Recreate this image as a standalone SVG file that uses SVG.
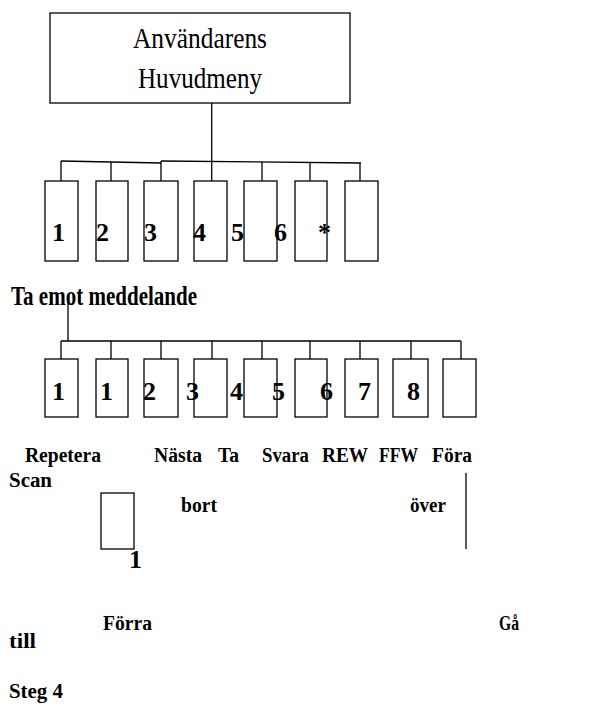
<svg xmlns="http://www.w3.org/2000/svg" width="604" height="706" viewBox="0 0 604 706">
<style>
.box{fill:#fff;stroke:#000;stroke-width:1.3}
.ln{fill:none;stroke:#000;stroke-width:1.3}
.t{font-family:"Liberation Serif","Times New Roman",serif;fill:#000}
.n{font-family:"Liberation Serif","Times New Roman",serif;font-weight:bold;font-size:26px;fill:#000}
.b{font-family:"Liberation Serif","Times New Roman",serif;font-weight:bold;font-size:20px;fill:#000}
</style>
<rect width="604" height="706" fill="#fff"/>
<g id="connectors">
<line class="ln" x1="211.7" y1="103" x2="211.7" y2="162"/>
<polyline class="ln" points="61,161 161,163"/>
<polyline class="ln" points="161,161 361,163"/>
<line class="ln" x1="61" y1="161" x2="61" y2="181"/>
<line class="ln" x1="111" y1="161.7" x2="111" y2="181"/>
<line class="ln" x1="161" y1="161" x2="161" y2="181"/>
<line class="ln" x1="211.7" y1="162" x2="211.7" y2="181"/>
<line class="ln" x1="262" y1="162" x2="262" y2="181"/>
<line class="ln" x1="310" y1="162.5" x2="310" y2="181"/>
<line class="ln" x1="360" y1="163" x2="360" y2="181"/>
<line class="ln" x1="68" y1="300" x2="68" y2="341"/>
<line class="ln" x1="61" y1="341" x2="461" y2="341"/>
<line class="ln" x1="61" y1="341" x2="61" y2="359"/>
<line class="ln" x1="111" y1="341" x2="111" y2="359"/>
<line class="ln" x1="161" y1="341" x2="161" y2="359"/>
<line class="ln" x1="212" y1="341" x2="212" y2="359"/>
<line class="ln" x1="262" y1="341" x2="262" y2="359"/>
<line class="ln" x1="310" y1="341" x2="310" y2="359"/>
<line class="ln" x1="360" y1="341" x2="360" y2="359"/>
<line class="ln" x1="411" y1="341" x2="411" y2="359"/>
<line class="ln" x1="461" y1="341" x2="461" y2="359"/>
<line class="ln" x1="466" y1="473" x2="466" y2="549"/>
</g>
<g id="main">
<rect class="box" x="50" y="13" width="300" height="90"/>
<text class="t" x="133" y="48" font-size="30" textLength="134" lengthAdjust="spacingAndGlyphs">Användarens</text>
<text class="t" x="138" y="88" font-size="30" textLength="124" lengthAdjust="spacingAndGlyphs">Huvudmeny</text>
</g>
<g id="menu1">
<rect class="box" x="45" y="181" width="33" height="80"/>
<rect class="box" x="96" y="181" width="32" height="80"/>
<rect class="box" x="144" y="181" width="34" height="80"/>
<rect class="box" x="194" y="181" width="33" height="80"/>
<rect class="box" x="244" y="181" width="33" height="80"/>
<rect class="box" x="295" y="181" width="32" height="80"/>
<rect class="box" x="345" y="181" width="33" height="80"/>
<text class="n" x="52" y="241">1</text>
<text class="n" x="96" y="241">2</text>
<text class="n" x="144" y="241">3</text>
<text class="n" x="193" y="241">4</text>
<text class="n" x="231" y="241">5</text>
<text class="n" x="274" y="241">6</text>
<text class="n" x="318" y="241">*</text>
</g>
<g id="receive">
<text class="t" x="11" y="305" font-size="27" font-weight="bold" textLength="186" lengthAdjust="spacingAndGlyphs">Ta emot meddelande</text>
</g>
<g id="menu2">
<rect class="box" x="45" y="359" width="33" height="58"/>
<rect class="box" x="96" y="359" width="32" height="58"/>
<rect class="box" x="144" y="359" width="34" height="58"/>
<rect class="box" x="194" y="359" width="33" height="58"/>
<rect class="box" x="244" y="359" width="33" height="58"/>
<rect class="box" x="295" y="359" width="32" height="58"/>
<rect class="box" x="345" y="359" width="33" height="58"/>
<rect class="box" x="393" y="359" width="35" height="58"/>
<rect class="box" x="443" y="359" width="33" height="58"/>
<text class="n" x="52" y="400">1</text>
<text class="n" x="100" y="400">1</text>
<text class="n" x="143" y="400">2</text>
<text class="n" x="186" y="400">3</text>
<text class="n" x="230" y="400">4</text>
<text class="n" x="272" y="400">5</text>
<text class="n" x="320" y="400">6</text>
<text class="n" x="358" y="400">7</text>
<text class="n" x="407" y="400">8</text>
</g>
<g id="labels">
<text class="b" x="25" y="462" textLength="76" lengthAdjust="spacingAndGlyphs">Repetera</text>
<text class="b" x="154" y="462" textLength="48" lengthAdjust="spacingAndGlyphs">Nästa</text>
<text class="b" x="218" y="462" textLength="21" lengthAdjust="spacingAndGlyphs">Ta</text>
<text class="b" x="262" y="462" textLength="47" lengthAdjust="spacingAndGlyphs">Svara</text>
<text class="b" x="322" y="462" textLength="46" lengthAdjust="spacingAndGlyphs">REW</text>
<text class="b" x="379" y="462" textLength="39" lengthAdjust="spacingAndGlyphs">FFW</text>
<text class="b" x="432" y="462" textLength="40" lengthAdjust="spacingAndGlyphs">Föra</text>
<text class="b" x="9" y="487" textLength="43" lengthAdjust="spacingAndGlyphs">Scan</text>
<text class="b" x="181" y="512" textLength="36" lengthAdjust="spacingAndGlyphs">bort</text>
<text class="b" x="410" y="512" textLength="36" lengthAdjust="spacingAndGlyphs">över</text>
<text class="b" x="103" y="630" textLength="49" lengthAdjust="spacingAndGlyphs">Förra</text>
<text class="b" x="499" y="630" textLength="20" lengthAdjust="spacingAndGlyphs">Gå</text>
<text class="b" x="9" y="648" textLength="27" lengthAdjust="spacingAndGlyphs">till</text>
<text class="b" x="9" y="698" textLength="54" lengthAdjust="spacingAndGlyphs">Steg 4</text>
</g>
<g id="small">
<rect class="box" x="101" y="493" width="33" height="56"/>
<text class="n" x="129" y="568" font-size="23">1</text>
</g>
</svg>
